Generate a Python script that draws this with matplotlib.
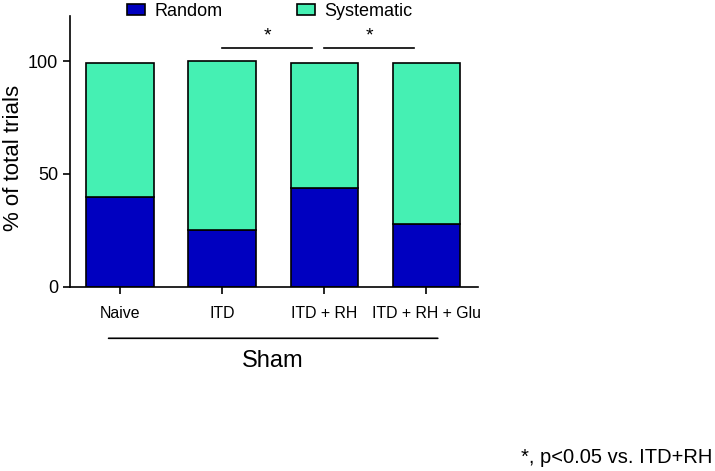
import numpy as np
import matplotlib.pyplot as plt

plt.rcParams['font.family'] = ['Liberation Sans', 'DejaVu Sans']

groups = ["Naive", "ITD", "ITD + RH", "ITD + RH + Glu"]
random_pct = [40, 25, 44, 28]
systematic_pct = [59, 75, 55, 71]
sig_pairs = [(1, 2), (2, 3)]

blue = "#0000C0"
green = "#45F0B3"

fig = plt.figure(figsize=(7.15, 4.71), dpi=100)
ax = fig.add_axes([0.098, 0.391, 0.571, 0.575])

x = np.arange(len(groups))
w = 0.66
ax.bar(x, random_pct, w, color=blue, edgecolor="black", linewidth=1.2, label="Random")
ax.bar(x, systematic_pct, w, bottom=random_pct, color=green, edgecolor="black",
       linewidth=1.2, label="Systematic")

ax.set_xlim(-0.49, 3.51)
ax.set_ylim(0, 120)
ax.set_yticks([0, 50, 100])
ax.set_xticks(x)
ax.set_xticklabels(groups, fontsize=11.4)
ax.tick_params(axis="y", labelsize=13, length=5, width=1.2)
ax.tick_params(axis="x", length=5, width=1.2, pad=9)
for s in ["top", "right"]:
    ax.spines[s].set_visible(False)
for s in ["left", "bottom"]:
    ax.spines[s].set_linewidth(1.2)
# y label placed by hand so it sits close to the left edge like the original
fig.text(0.019, 0.665, "% of total trials", rotation=90, ha="center", va="center", fontsize=16)

# significance bars
for a, b in sig_pairs:
    ax.plot([a, b - 0.12], [106, 106], color="black", lw=1.2, clip_on=False)
    ax.text((a + b - 0.12) / 2, 107.5, "*", ha="center", va="bottom", fontsize=14)

# group line under labels
ax.annotate("", xy=(-0.14, -0.19), xytext=(3.14, -0.19), xycoords=("data", "axes fraction"),
            arrowprops=dict(arrowstyle="-", lw=1.2, color="black"))
ax.text(1.5, -0.235, "Sham", transform=ax.get_xaxis_transform(), ha="center", va="top", fontsize=17)

fig.legend(loc="upper left", bbox_to_anchor=(0.177, 0.993), ncol=2, frameon=False, fontsize=13,
           handlelength=1.0, handleheight=0.55, handletextpad=0.55, columnspacing=4.1,
           borderpad=0, borderaxespad=0)

fig.text(0.997, 0.028, "*, p<0.05 vs. ITD+RH", ha="right", va="center", fontsize=14.5)

fig.savefig("out.png", dpi=100)
